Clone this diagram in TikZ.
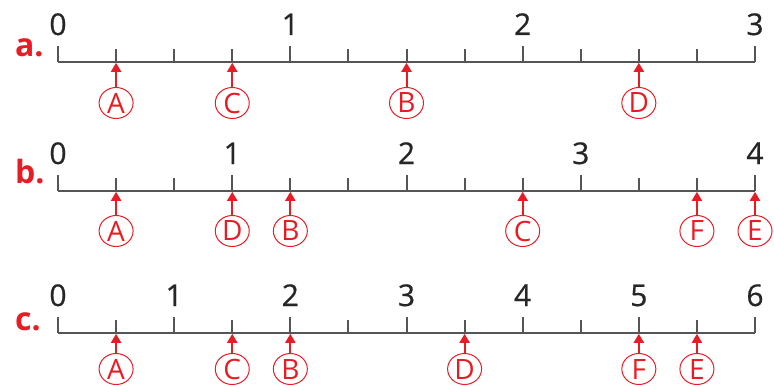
\documentclass[tikz,border=0pt]{standalone}
\usepackage{fontspec}
\setmainfont{Open Sans}
\usetikzlibrary{arrows.meta,calc,shapes.geometric}
\definecolor{markred}{RGB}{232,28,36}
\definecolor{axisgray}{RGB}{85,85,85}
\tikzset{
  axisline/.style={axisgray,line width=1pt},
  marklabel/.style={draw=markred,ellipse,line width=0.5pt,inner sep=0pt,
    minimum width=17pt,minimum height=15.5pt,text=markred,
    font=\fontsize{14}{14}\selectfont},
  markarrow/.style={markred,line width=1pt,-{Triangle[width=5pt,length=4.5pt]},shorten >=0.4pt},
  numlabel/.style={anchor=base,text=black!85,font=\fontsize{15}{16}\selectfont\addfontfeatures{FakeBold=0.6}},
  rowlabel/.style={anchor=base west,text=markred,font=\fontsize{16}{18}\selectfont\bfseries},
}
\begin{document}
\begin{tikzpicture}[x=0.5pt,y=-0.5pt]
    \useasboundingbox (0,0) rectangle (774,385);
    % row a: 0 to 3, quarters
    \node[rowlabel] (rowa) at (8,57) {a.};
    \foreach \k in {0,...,12} {\coordinate (a\k) at ({58+\k*697/12},62);}
    \draw[axisline] (a0) -- (a12);
    \foreach \k in {1,2,3,5,6,7,9,10,11} {\draw[axisline] (a\k) -- ++(0,-13);}
    \foreach \k/\v in {0/0,4/1,8/2,12/3}{
      \draw[axisline] (a\k) -- ++(0,-16);
      \node[numlabel] (na\v) at ($(a\k)+(0,-27)$) {\v};}
    \foreach \k/\m in {1/A,3/C,6/B,10/D}{
      \node[marklabel] (a\m) at ($(a\k)+(0,41)$) {\m};
      \draw[markarrow] (a\m) -- (a\k);}
    % row b: 0 to 4, thirds
    \node[rowlabel] (rowb) at (8,183) {b.};
    \foreach \k in {0,...,12} {\coordinate (b\k) at ({58+\k*697/12},191);}
    \draw[axisline] (b0) -- (b12);
    \foreach \k in {1,2,4,5,7,8,10,11} {\draw[axisline] (b\k) -- ++(0,-13);}
    \foreach \k/\v in {0/0,3/1,6/2,9/3,12/4}{
      \draw[axisline] (b\k) -- ++(0,-16);
      \node[numlabel] (nb\v) at ($(b\k)+(0,-27)$) {\v};}
    \foreach \k/\m in {1/A,3/D,4/B,8/C,11/F,12/E}{
      \node[marklabel] (b\m) at ($(b\k)+(0,40)$) {\m};
      \draw[markarrow] (b\m) -- (b\k);}
    % row c: 0 to 6, halves
    \node[rowlabel] (rowc) at (8,330) {c.};
    \foreach \k in {0,...,12} {\coordinate (c\k) at ({58+\k*697/12},333);}
    \draw[axisline] (c0) -- (c12);
    \foreach \k in {1,3,5,7,9,11} {\draw[axisline] (c\k) -- ++(0,-13);}
    \foreach \k/\v in {0/0,2/1,4/2,6/3,8/4,10/5,12/6}{
      \draw[axisline] (c\k) -- ++(0,-16);
      \node[numlabel] (nc\v) at ($(c\k)+(0,-27)$) {\v};}
    \foreach \k/\m in {1/A,3/C,4/B,7/D,10/F,11/E}{
      \node[marklabel] (c\m) at ($(c\k)+(0,36)$) {\m};
      \draw[markarrow] (c\m) -- (c\k);}
  \end{tikzpicture}
\end{document}
